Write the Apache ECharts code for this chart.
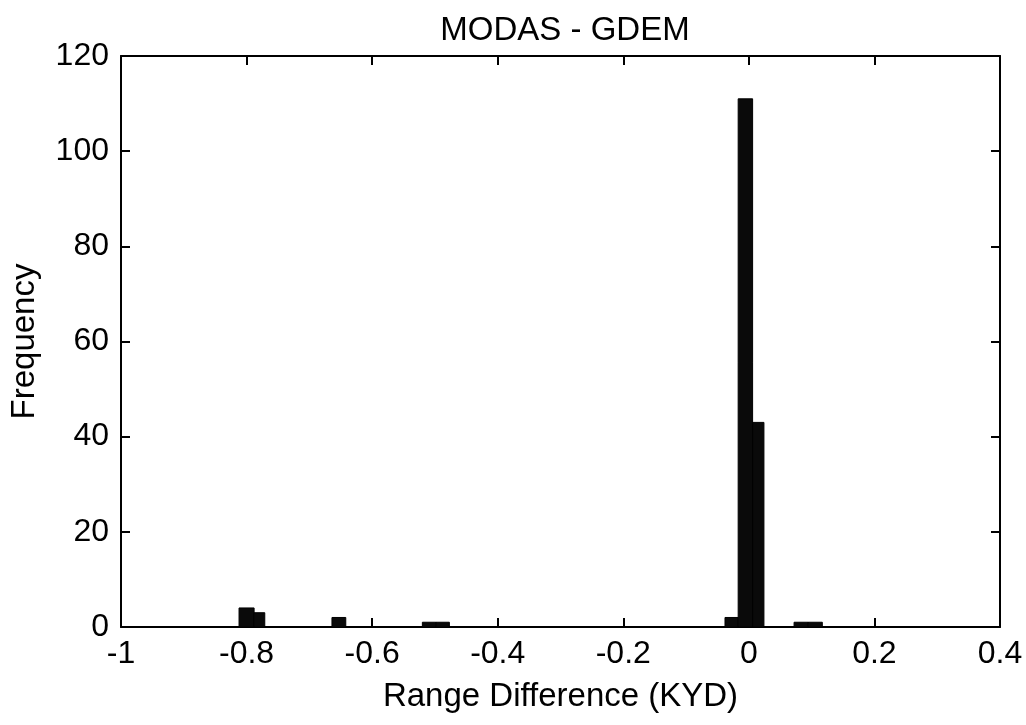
<!DOCTYPE html>
<html>
<head>
<meta charset="utf-8">
<script src="https://cdn.jsdelivr.net/npm/echarts@6/dist/echarts.min.js"></script>
<style>
html,body{margin:0;padding:0;background:#fff;}
#c{width:1026px;height:725px;}
</style>
</head>
<body>
<div id="c"></div>
<script>
// Histogram bins (KYD) and counts
var binLeft  = [-0.812, -0.788, -0.664, -0.520, -0.4985, -0.038, -0.017, 0.006, 0.072, 0.0945];
var binRight = [-0.788, -0.771, -0.642, -0.4985, -0.477, -0.017, 0.006, 0.024, 0.0945, 0.117];
var counts   = [4, 3, 2, 1, 1, 2, 111, 43, 1, 1];
var xTicks = [-1, -0.8, -0.6, -0.4, -0.2, 0, 0.2, 0.4];
var yTicks = [0, 20, 40, 60, 80, 100, 120];

var data = binLeft.map(function (l, i) { return [l, binRight[i], counts[i]]; });

var font = '"Liberation Sans", Arial, Helvetica, sans-serif';
var chart = echarts.init(document.getElementById('c'), null, {renderer: 'canvas'});

var axLine = {show: true, onZero: false, lineStyle: {color: '#000', width: 2}};
var tick = {show: true, inside: true, length: 9, lineStyle: {color: '#000', width: 2}};

chart.setOption({
  animation: false,
  backgroundColor: '#fff',
  title: {
    text: 'MODAS - GDEM',
    left: 560, top: 9, textAlign: 'center',
    textStyle: {fontFamily: font, fontSize: 33, fontWeight: 'normal', color: '#000'}
  },
  grid: {left: 118, right: 26, top: 56, bottom: 98},
  xAxis: [{
    type: 'value', min: xTicks[0], max: xTicks[xTicks.length - 1], interval: 0.2,
    position: 'bottom',
    axisLine: axLine, axisTick: tick, splitLine: {show: false},
    axisLabel: {fontFamily: font, fontSize: 32, color: '#000', margin: 11,
      formatter: function (v) { return String(Math.round(v * 10) / 10); }},
    name: 'Range Difference (KYD)', nameLocation: 'middle', nameGap: 53,
    nameTextStyle: {fontFamily: font, fontSize: 33, color: '#000'}
  }, {
    type: 'value', min: xTicks[0], max: xTicks[xTicks.length - 1], interval: 0.2,
    position: 'top',
    axisLine: axLine, axisTick: tick, splitLine: {show: false},
    axisLabel: {show: false}
  }],
  yAxis: [{
    type: 'value', min: yTicks[0], max: yTicks[yTicks.length - 1], interval: 20,
    position: 'left',
    axisLine: axLine, axisTick: tick, splitLine: {show: false},
    axisLabel: {fontFamily: font, fontSize: 32, color: '#000', margin: 12},
    name: 'Frequency', nameLocation: 'middle', nameGap: 80, nameRotate: 90,
    nameTextStyle: {fontFamily: font, fontSize: 33, color: '#000'}
  }, {
    type: 'value', min: yTicks[0], max: yTicks[yTicks.length - 1], interval: 20,
    position: 'right',
    axisLine: axLine, axisTick: tick, splitLine: {show: false},
    axisLabel: {show: false}
  }],
  series: [{
    type: 'custom',
    xAxisIndex: 0, yAxisIndex: 0,
    data: data,
    encode: {x: [0, 1], y: 2},
    renderItem: function (params, api) {
      var p0 = api.coord([api.value(0), 0]);
      var p1 = api.coord([api.value(1), api.value(2)]);
      return {
        type: 'rect',
        shape: {x: p0[0], y: p1[1], width: p1[0] - p0[0], height: p0[1] - p1[1]},
        style: {fill: '#0a0a0a', stroke: '#000', lineWidth: 1}
      };
    }
  }]
});
</script>
</body>
</html>
